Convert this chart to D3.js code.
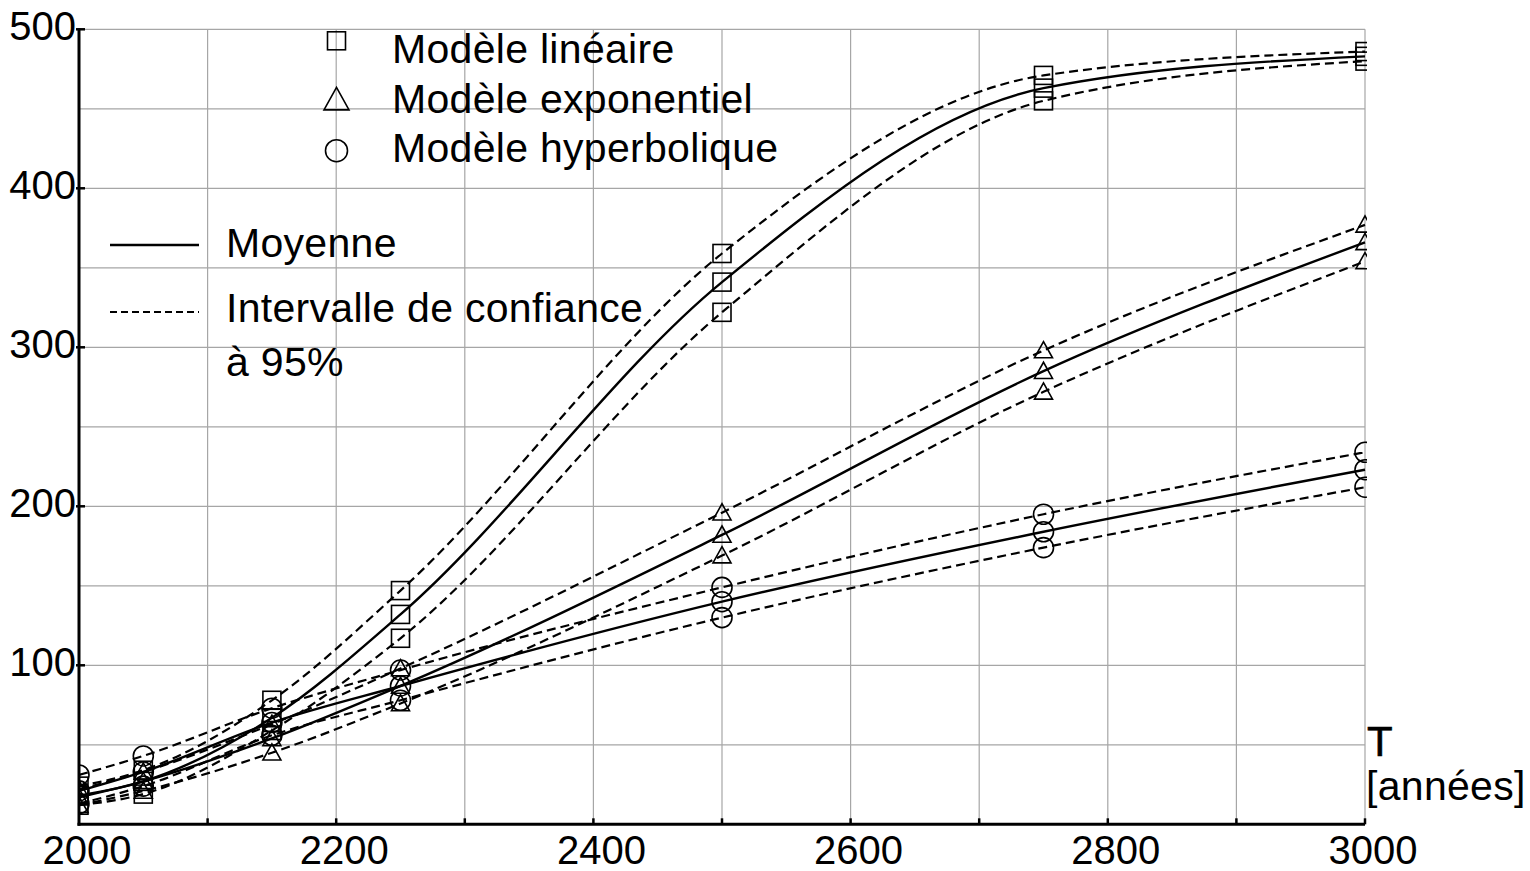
<!DOCTYPE html>
<html><head><meta charset="utf-8">
<script src="https://cdn.jsdelivr.net/npm/d3@7"></script>
<style>
html,body{margin:0;padding:0;background:#fff;}
text{font-family:"Liberation Sans",Arial,Helvetica,sans-serif;fill:#000;}
.leg{font-size:41px;letter-spacing:0.3px;}
</style></head>
<body>
<svg id="chart" width="1530" height="871"></svg>
<script>
// ---- data ----
const years = [2000, 2050, 2150, 2250, 2500, 2750, 3000];
const linMean = [18, 27, 67, 132, 341, 463, 483];
const linHigh = [24, 34, 78, 147, 359, 471, 486];
const linLow  = [12, 19, 59, 117, 322, 455, 480];
const expMean = [17, 27, 54, 87, 182, 285, 366];
const expHigh = [22, 33, 63, 98, 196, 298, 377];
const expLow  = [12, 21, 45, 76, 169, 272, 354];
const hypMean = [21, 33, 64, 87, 140, 184, 223];
const hypHigh = [31, 43, 73, 97, 149, 195, 234];
const hypLow  = [13, 24, 56, 78, 130, 174, 212];
const xTicks = [2000, 2200, 2400, 2600, 2800, 3000];
const yTicks = [100, 200, 300, 400, 500];
const legendModels = ["Modèle linéaire", "Modèle exponentiel", "Modèle hyperbolique"];
const legendLines = ["Moyenne", "Intervalle de confiance", "à 95%"];
const axisLabel = ["T", "[années]"];

const svg = d3.select("#chart");
const x = d3.scaleLinear().domain([2000, 3000]).range([79, 1365]);
const y = d3.scaleLinear().domain([0, 500]).range([824.3, 29.3]);

// grid
const g = svg.append("g");
g.selectAll("line.vg").data(d3.range(2100, 3001, 100)).join("line")
  .attr("x1", d => x(d)).attr("x2", d => x(d)).attr("y1", y(500)).attr("y2", y(0))
  .attr("stroke", "#a6a6a6").attr("stroke-width", 1.2);
g.selectAll("line.hg").data(d3.range(50, 501, 50)).join("line")
  .attr("x1", x(2000)).attr("x2", x(3000)).attr("y1", d => y(d)).attr("y2", d => y(d))
  .attr("stroke", "#a6a6a6").attr("stroke-width", 1.2);

// clip
svg.append("clipPath").attr("id", "clip").append("rect")
  .attr("x", x(2000)).attr("y", 0).attr("width", x(3000) - x(2000) + 2).attr("height", y(0));

const plot = svg.append("g").attr("clip-path", "url(#clip)");
const line = d3.line().x((d, i) => x(years[i])).y(d => y(d)).curve(d3.curveMonotoneX);

const models = [
  {mean: linMean, hi: linHigh, lo: linLow, shape: "square"},
  {mean: expMean, hi: expHigh, lo: expLow, shape: "triangle"},
  {mean: hypMean, hi: hypHigh, lo: hypLow, shape: "circle"}
];

models.forEach(m => {
  [m.hi, m.lo].forEach(arr => {
    plot.append("path").attr("d", line(arr)).attr("fill", "none")
      .attr("stroke", "#000").attr("stroke-width", 2.2).attr("stroke-dasharray", "9,5");
  });
  plot.append("path").attr("d", line(m.mean)).attr("fill", "none")
    .attr("stroke", "#000").attr("stroke-width", 2.4);
});

function marker(sel, shape, cx, cy, s) {
  if (shape === "square") {
    sel.append("rect").attr("x", cx - s / 2).attr("y", cy - s / 2).attr("width", s).attr("height", s)
      .attr("fill", "none").attr("stroke", "#000").attr("stroke-width", 1.6);
  } else if (shape === "triangle") {
    const w = s, h = s * 0.9;
    sel.append("path").attr("d", `M${cx},${cy - h * 0.55} L${cx + w / 2},${cy + h * 0.45} L${cx - w / 2},${cy + h * 0.45} Z`)
      .attr("fill", "none").attr("stroke", "#000").attr("stroke-width", 1.6);
  } else {
    sel.append("circle").attr("cx", cx).attr("cy", cy).attr("r", s / 2 + 1)
      .attr("fill", "none").attr("stroke", "#000").attr("stroke-width", 1.6);
  }
}

models.forEach(m => {
  [m.hi, m.mean, m.lo].forEach(arr => {
    arr.forEach((v, i) => marker(plot, m.shape, x(years[i]), y(v), 18));
  });
});

// axes
svg.append("line").attr("x1", x(2000)).attr("x2", x(2000)).attr("y1", y(500) - 1).attr("y2", y(0) + 1.5)
  .attr("stroke", "#000").attr("stroke-width", 3);
svg.append("line").attr("x1", x(2000) - 1.5).attr("x2", x(3000)).attr("y1", y(0)).attr("y2", y(0))
  .attr("stroke", "#000").attr("stroke-width", 3);
svg.selectAll("line.xt").data(d3.range(2100, 3001, 100)).join("line")
  .attr("x1", d => x(d)).attr("x2", d => x(d)).attr("y1", y(0)).attr("y2", y(0) - 6)
  .attr("stroke", "#000").attr("stroke-width", 2.5);
svg.selectAll("line.yt").data(yTicks).join("line")
  .attr("x1", x(2000) - 3).attr("x2", x(2000) + 6).attr("y1", d => y(d)).attr("y2", d => y(d))
  .attr("stroke", "#000").attr("stroke-width", 2.5);

svg.selectAll("text.xl").data(xTicks).join("text")
  .attr("x", d => x(d) + 8).attr("y", 864).attr("text-anchor", "middle")
  .attr("font-size", 40).text(d => d);
svg.selectAll("text.yl").data(yTicks).join("text")
  .attr("x", 76).attr("y", d => y(d) + 10.5).attr("text-anchor", "end")
  .attr("font-size", 40).text(d => d);

// axis label
svg.append("text").attr("x", 1367).attr("y", 756).attr("font-size", 42).attr("stroke", "#000").attr("stroke-width", 0.6).text(axisLabel[0]);
svg.append("text").attr("class", "leg").attr("x", 1366).attr("y", 800).text(axisLabel[1]);

// legend models
const legShapes = ["square", "triangle", "circle"];
const legY = [63.3, 112.7, 161.7];
legendModels.forEach((t, i) => {
  const lg = svg.append("g");
  const s = i === 0 ? 18 : (i === 1 ? 25 : 20);
  marker(lg, legShapes[i], 336.5, legY[i] - (i === 0 ? 22.5 : (i === 1 ? 13 : 11)), s);
  svg.append("text").attr("class", "leg").attr("x", 392).attr("y", legY[i]).text(t);
});

// legend lines
svg.append("line").attr("x1", 110).attr("x2", 199).attr("y1", 245).attr("y2", 245)
  .attr("stroke", "#000").attr("stroke-width", 2.4);
svg.append("line").attr("x1", 110).attr("x2", 199).attr("y1", 312).attr("y2", 312)
  .attr("stroke", "#000").attr("stroke-width", 2).attr("stroke-dasharray", "7,4");
svg.append("text").attr("class", "leg").attr("x", 226).attr("y", 257).text(legendLines[0]);
svg.append("text").attr("class", "leg").attr("x", 226).attr("y", 322).text(legendLines[1]);
svg.append("text").attr("class", "leg").attr("x", 226).attr("y", 376).text(legendLines[2]);
</script>
</body></html>
